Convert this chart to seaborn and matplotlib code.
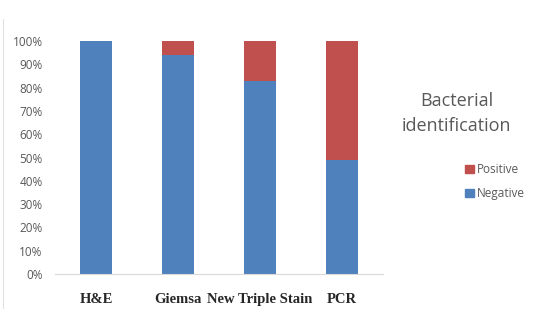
import matplotlib
matplotlib.use('Agg')
import matplotlib.pyplot as plt
import seaborn as sns
import pandas as pd
from matplotlib.lines import Line2D
from matplotlib.patches import Patch

## datos (porcentaje)
metodos = ['H&E', 'Giemsa', 'New Triple Stain', 'PCR']
negativo = [100, 94, 83, 49]
positivo = [0, 6, 17, 51]

azul = '#4F81BD'
rojo = '#C0504D'
gris = '#595959'

df = pd.DataFrame({'metodo': metodos, 'neg': negativo, 'pos': positivo})
df['total'] = df['neg'] + df['pos']

sns.set_style("white")
fig = plt.figure(figsize=(5.4, 3.09), dpi=100)
ax = fig.add_axes([0.102, 0.1133, 0.607, 0.7537])

# barra total (rojo) y encima la parte negativa (azul)
sns.barplot(data=df, x='metodo', y='total', color=rojo, width=0.39,
            saturation=1, linewidth=0, ax=ax)
sns.barplot(data=df, x='metodo', y='neg', color=azul, width=0.39,
            saturation=1, linewidth=0, ax=ax)

ax.set_ylim(0, 100)
ax.set_xlim(-0.5, 3.5)
ax.set_yticks(range(0, 101, 10))
ax.set_yticklabels([f'{v}%' for v in range(0, 101, 10)],
                   fontsize=8.5, color=gris, family='Open Sans')
ax.set_xticks(range(len(metodos)))
ax.set_xticklabels(metodos, fontsize=10.5, fontweight='bold',
                   family='Liberation Serif')
ax.tick_params(axis='y', length=0, pad=9)
ax.tick_params(axis='x', length=0, pad=14)
ax.set_xlabel('')
ax.set_ylabel('')
for s in ['top', 'right', 'left']:
    ax.spines[s].set_visible(False)
ax.spines['bottom'].set_color('#D9D9D9')
ax.spines['bottom'].set_linewidth(0.8)

# titulo de la leyenda
fig.text(0.846, 0.633, 'Bacterial\nidentification', ha='center', va='center',
         fontsize=13, color=gris, family='Open Sans', linespacing=1.45)

handles = [Patch(color=rojo, label='Positive'), Patch(color=azul, label='Negative')]
leg = fig.legend(handles=handles, loc='center left', bbox_to_anchor=(0.842, 0.412),
                 frameon=False, fontsize=8.5, handlelength=0.7, handleheight=0.7,
                 handletextpad=0.3, labelspacing=0.95)
for t in leg.get_texts():
    t.set_color(gris)
    t.set_family('Open Sans')

# borde izquierdo de la imagen
fig.add_artist(Line2D([0.006, 0.006], [0.0, 0.94], color='#E0E0E0', lw=0.8))

fig.savefig('out.png', dpi=100)
